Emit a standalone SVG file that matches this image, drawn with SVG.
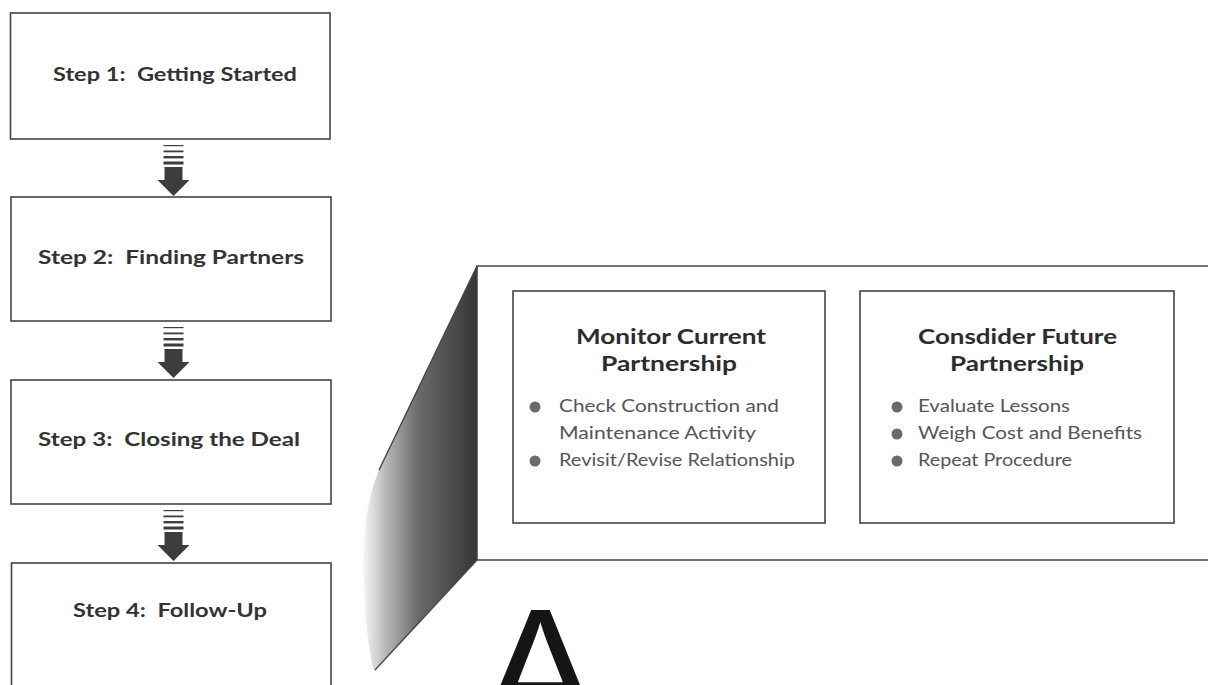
<svg xmlns="http://www.w3.org/2000/svg" width="1208" height="685" viewBox="0 0 1208 685">
  <style>
    .box { fill: #ffffff; stroke: #444444; stroke-width: 1.6; }
    .step { font-family: Lato, "Open Sans", "Liberation Sans", sans-serif; font-weight: 700; font-size: 19px; fill: #333333; white-space: pre; }
    .title { font-family: Lato, "Open Sans", "Liberation Sans", sans-serif; font-weight: 700; font-size: 21px; fill: #2c2c2c; text-anchor: start; }
    .item { font-family: Lato, "Open Sans", "Liberation Sans", sans-serif; font-weight: 400; font-size: 17px; fill: #555555; }
    .dot { fill: #6a6a6a; }
    .arrow { fill: #3d3d3d; }
  </style>
  <defs>
    <!-- striped block arrow, origin at the bottom edge of the upper box -->
    <g id="blockArrow" class="arrow">
      <rect x="163.5" y="6" width="20" height="1.2"/>
      <rect x="163.5" y="11.5" width="20" height="1.8"/>
      <rect x="163.5" y="17" width="20" height="2.4"/>
      <rect x="163.5" y="22.5" width="20" height="3"/>
      <rect x="164.5" y="28" width="18" height="13.5"/>
      <polygon points="157.5,41 189.5,41 173.5,57"/>
    </g>
    <linearGradient id="wedgeShade" gradientUnits="userSpaceOnUse" x1="360" y1="0" x2="477" y2="0">
      <stop offset="0" stop-color="#ffffff"/>
      <stop offset="0.22" stop-color="#b8b8b8"/>
      <stop offset="0.5" stop-color="#6a6a6a"/>
      <stop offset="1" stop-color="#363636"/>
    </linearGradient>
  </defs>

  <rect width="1208" height="685" fill="#ffffff"/>

  <!-- perspective wedge joining the step list to the detail panel -->
  <g id="wedge">
    <path d="M477,266 L477,560 L374,671 C366,640 362,590 364,540 C366,510 371,490 379,470 Z" fill="url(#wedgeShade)"/>
    <line x1="477" y1="266" x2="379" y2="470" stroke="#444444" stroke-width="1.4"/>
    <line x1="477" y1="560" x2="375" y2="670" stroke="#4a4a4a" stroke-width="1.4"/>
  </g>

  <!-- step boxes -->
  <g id="step1">
    <rect class="box" x="10.5" y="13" width="319.5" height="126"/>
    <text class="step" x="53" y="81" textLength="244" lengthAdjust="spacingAndGlyphs">Step 1:  Getting Started</text>
  </g>
  <g id="step2">
    <rect class="box" x="11" y="197" width="320" height="124"/>
    <text class="step" x="38" y="264" textLength="266" lengthAdjust="spacingAndGlyphs">Step 2:  Finding Partners</text>
  </g>
  <g id="step3">
    <rect class="box" x="11" y="380" width="320" height="124"/>
    <text class="step" x="38" y="446" textLength="262" lengthAdjust="spacingAndGlyphs">Step 3:  Closing the Deal</text>
  </g>
  <g id="step4">
    <rect class="box" x="11.5" y="563" width="319.5" height="140"/>
    <text class="step" x="73" y="617" textLength="194" lengthAdjust="spacingAndGlyphs">Step 4:  Follow-Up</text>
  </g>

  <!-- connectors between steps -->
  <g id="connectors">
    <use href="#blockArrow" transform="translate(0,139)"/>
    <use href="#blockArrow" transform="translate(0,321)"/>
    <use href="#blockArrow" transform="translate(0,504)"/>
  </g>

  <!-- follow-up detail panel -->
  <g id="panel">
    <path d="M1210,266 L477,266 L477,560 L1210,560" fill="#ffffff" stroke="#444444" stroke-width="1.6"/>
  </g>

  <g id="monitor">
    <rect class="box" x="513" y="291" width="312" height="232"/>
    <text class="title" x="576" y="344" textLength="190" lengthAdjust="spacingAndGlyphs">Monitor Current</text>
    <text class="title" x="601" y="371" textLength="136" lengthAdjust="spacingAndGlyphs">Partnership</text>
    <circle class="dot" cx="535" cy="407" r="5.5"/>
    <text class="item" x="559" y="412" textLength="220" lengthAdjust="spacingAndGlyphs">Check Construction and</text>
    <text class="item" x="559" y="439" textLength="197" lengthAdjust="spacingAndGlyphs">Maintenance Activity</text>
    <circle class="dot" cx="535" cy="461" r="5.5"/>
    <text class="item" x="559" y="466" textLength="236" lengthAdjust="spacingAndGlyphs">Revisit/Revise Relationship</text>
  </g>

  <g id="consider">
    <rect class="box" x="860" y="291" width="314" height="232"/>
    <text class="title" x="918" y="344" textLength="199" lengthAdjust="spacingAndGlyphs">Consdider Future</text>
    <text class="title" x="950" y="371" textLength="134" lengthAdjust="spacingAndGlyphs">Partnership</text>
    <circle class="dot" cx="897" cy="407" r="5.5"/>
    <text class="item" x="918" y="412" textLength="152" lengthAdjust="spacingAndGlyphs">Evaluate Lessons</text>
    <circle class="dot" cx="897" cy="434" r="5.5"/>
    <text class="item" x="918" y="439" textLength="224" lengthAdjust="spacingAndGlyphs">Weigh Cost and Benefits</text>
    <circle class="dot" cx="897" cy="461" r="5.5"/>
    <text class="item" x="918" y="466" textLength="154" lengthAdjust="spacingAndGlyphs">Repeat Procedure</text>
  </g>

  <!-- large letter at the foot of the panel, running past the lower edge -->
  <text x="540" y="730" font-family="'Liberation Sans', Arial, sans-serif" font-weight="400" font-size="175" fill="#151515" text-anchor="middle">A</text>
</svg>
